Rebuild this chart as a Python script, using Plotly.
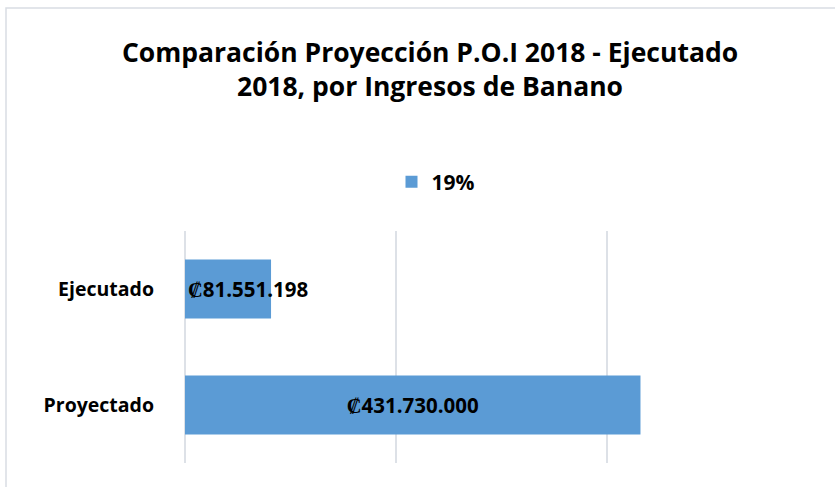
import plotly.graph_objects as go

categories = ["Proyectado", "Ejecutado"]
values = [431730000, 81551198]
labels = ["₡431.730.000", "₡81.551.198"]
series_name = "19%"
title_text = "Comparación Proyección P.O.I 2018 - Ejecutado<br>2018, por Ingresos de Banano"

FONT = "Open Sans"
BAR = "#5b9bd5"

fig = go.Figure()
# Proyectado (label centered)
fig.add_trace(go.Bar(
    y=[categories[0]], x=[values[0]], orientation="h", name=series_name,
    marker=dict(color=BAR, line=dict(width=0)), width=0.51,
    text=[labels[0]], textposition="inside", insidetextanchor="middle",
    constraintext="none", legendgroup="g",
    textfont=dict(family=FONT, size=20.5, color="black", weight="bold"),
))
# Ejecutado (label starts inside bar and overflows)
fig.add_trace(go.Bar(
    y=[categories[1]], x=[values[1]], orientation="h", name=series_name,
    marker=dict(color=BAR, line=dict(width=0)), width=0.51,
    text=[labels[1]], textposition="inside", insidetextanchor="start",
    constraintext="none", legendgroup="g", showlegend=False,
    textfont=dict(family=FONT, size=20.5, color="black", weight="bold"),
))

fig.update_layout(
    width=835, height=487,
    margin=dict(l=185, r=17, t=231, b=24),
    paper_bgcolor="white", plot_bgcolor="white",
    barmode="overlay",
    font=dict(family=FONT, color="black"),
    title=dict(text=title_text, x=(430 - 185) / 633, xanchor="center", xref="paper",
               y=1 - 62 / 487, yanchor="middle", yref="container",
               font=dict(family=FONT, size=26.5, color="black", weight="bold")),
    showlegend=True,
    legend=dict(orientation="h", x=(436 - 185) / 633, xanchor="center", y=1.211, yanchor="middle",
                font=dict(family=FONT, size=21, color="black", weight="bold"),
                itemwidth=30, bgcolor="rgba(0,0,0,0)"),
    xaxis=dict(range=[0, 600000000], dtick=200000000, showticklabels=False,
               showgrid=True, gridcolor="#dde1e7", gridwidth=2,
               zeroline=True, zerolinecolor="#dde1e7", zerolinewidth=2,
               showline=False, fixedrange=True),
    yaxis=dict(categoryorder="array", categoryarray=categories,
               showgrid=False, zeroline=False, showline=False, ticks="",
               ticklabelstandoff=30, fixedrange=True,
               tickfont=dict(family=FONT, size=19.5, color="black", weight="bold")),
    shapes=[dict(type="rect", xref="paper", yref="paper",
                 x0=(6 - 185) / 633, x1=1.2, y0=-0.3, y1=1 + (231 - 8) / 232,
                 line=dict(color="#d9dde3", width=1.5), fillcolor="rgba(0,0,0,0)",
                 layer="below")],
)

fig.write_html("out.html", config={"displayModeBar": False},
               post_script="document.body.style.margin='0';")
